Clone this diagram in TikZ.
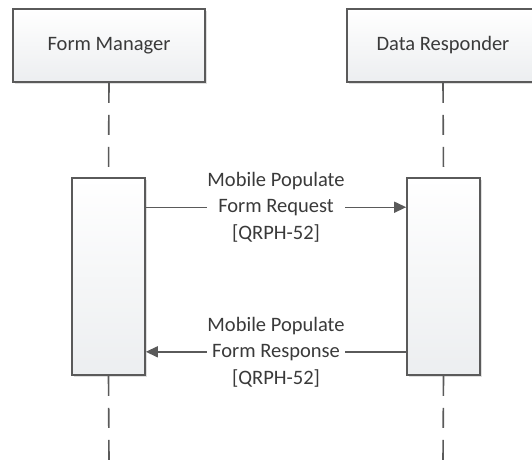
\documentclass[tikz,border=0pt]{standalone}
\usepackage{fontspec}
\setmainfont{Carlito}
\usetikzlibrary{arrows.meta,shadows,calc}
\definecolor{lineg}{HTML}{5A5A5A}
\definecolor{textg}{HTML}{3A3A3A}
\definecolor{fillbot}{HTML}{ECEEF0}
\tikzset{
  actor/.style={draw=lineg, line width=1.6pt, top color=white, bottom color=fillbot,
    drop shadow={shadow xshift=1.5pt, shadow yshift=-1.5pt, opacity=0.25, fill=gray},
    minimum width=192pt, minimum height=73pt, inner sep=0pt, text=textg,
    font=\fontsize{20.5}{26}\selectfont},
  activation/.style={draw=lineg, line width=1.6pt, top color=white, bottom color=fillbot,
    drop shadow={shadow xshift=1.5pt, shadow yshift=-1.5pt, opacity=0.25, fill=gray},
    minimum width=73pt, minimum height=197pt, inner sep=0pt},
  lifeline/.style={draw=lineg, line width=1.6pt, dash pattern=on 20pt off 12pt},
  msg/.style={draw=lineg, line width=1.4pt},
  msgarrow/.style={msg, -{Triangle[length=12pt,width=11pt]}},
  msglabel/.style={fill=white, text=textg, align=center, inner xsep=0.5pt, inner ysep=0pt,
    font=\fontsize{20.5}{26.5}\selectfont}
}
\begin{document}
\begin{tikzpicture}[x=1pt,y=-1pt]
\useasboundingbox (0,0) rectangle (532,459);
\clip (0,0) rectangle (532,459);
\node[actor] (fm) at (109,45.5) {Form Manager};
\node[actor] (dr) at (443,45.5) {Data Responder};
\coordinate (fmend) at (109,460);
\coordinate (drend) at (443,460);
\node[activation] (fma) at (108.5,276.5) {};
\node[activation] (dra) at (443.5,276.5) {};
\draw[lifeline] (fm.south) -- (fma.north);
\draw[lifeline] (dr.south) -- (dra.north);
\draw[lifeline] (fma.south) -- (fmend);
\draw[lifeline] (dra.south) -- (drend);
% request
\coordinate (rqs) at ($(fma.north east)+(0,30)$);
\coordinate (rqe) at ($(dra.north west)+(0,30)$);
\draw[msgarrow] (rqs) -- (rqe);
\node[msglabel] (rql) at ($(rqs)!0.5!(rqe)$) {Mobile Populate\\Form Request\\{[QRPH-52]}};
% response
\coordinate (rss) at ($(dra.south west)+(0,-24)$);
\coordinate (rse) at ($(fma.south east)+(0,-24)$);
\draw[msgarrow] (rss) -- (rse);
\node[msglabel] (rsl) at ($(rss)!0.5!(rse)$) {Mobile Populate\\Form Response\\{[QRPH-52]}};
\end{tikzpicture}
\end{document}
